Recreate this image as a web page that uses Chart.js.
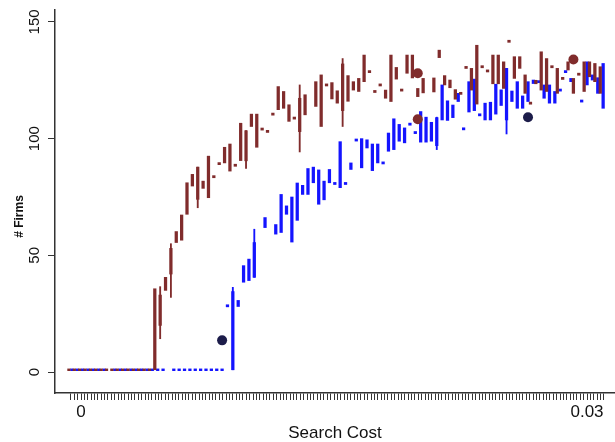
<!DOCTYPE html>
<html><head><meta charset="utf-8">
<script src="https://cdn.jsdelivr.net/npm/chart.js@4.4.0/dist/chart.umd.min.js"></script>
<style>html,body{margin:0;padding:0;background:#fff;}canvas{display:block;}</style>
</head><body>
<canvas id="c" width="615" height="442"></canvas>
<script>
// ---- data (category index 0..99 along Search Cost) ----
const categories = Array.from({length: 100}, (_, i) => i);
const maroonLow = [1,1,1,1,1,1,1,1,1,1,1,1,1,1,1,1,
  1,20,35,42,55.5,56.5,67.6,79.7,74,78.7,74.7,83.7,89.3,89.6,86.1,88.6,90.6,90.5,105.2,96.3,
  104.1,103.1,110.5,112.4,113,107.4,108.8,103,110.2,null,113.8,105.2,123,117,115.2,112,116,120.8,120.2,124.4,
  128.7,120.2,123,117.3,115.9,125.5,120.8,128,126,118,119.6,null,120,134.7,123,121.8,116.9,119.4,130.5,120.8,
  114.8,130.8,129,123.5,123.5,121.5,141.7,125.8,130.1,119.4,115.2,123.5,120.8,120.2,130.8,119.4,125.8,129.4,119.4,127.6,
  120.2,126.5,124.4,119.4];
const maroonHigh = [1,1,1,1,1,1,1,1,1,1,1,1,1,1,1,1,
  35.7,33,40.6,53,60.2,67.3,81.1,84.7,87.8,81.8,92.5,83.7,89.3,96.3,97.7,88.6,106.6,103.4,110.5,110.5,
  104.1,103.1,110.5,122.3,120.2,114.5,108.8,117.3,118.8,null,124.4,127.3,123,124,120.5,132,127,124.4,125.8,135.8,
  128.7,120.2,123,120.8,135.8,130.5,120.8,135.8,135.8,121.5,125.8,null,126,137.9,127,125.1,121,119.4,130.5,130.1,
  140,130.8,129,135.8,135.8,132.9,141.7,135.1,135.1,127.3,115.2,125,137.2,134.3,130.8,130.1,125.8,132.9,125.8,127.6,
  132.9,132.9,132.2,130.8];
const blueLow = [1,1,1,1,1,1,1,null,1,1,1,1,1,1,1,1,1,1,null,1,1,1,1,1,1,1,1,1,1,
  28.4,1,28.1,38.5,39.2,40.6,null,61.9,null,59.1,59.8,67.6,55.7,65,76.1,76.1,81.1,71.9,73.8,81.1,80.8,
  79,80.8,86.8,99.4,87.5,96,86.3,89.6,89.6,94.6,95.3,98.9,98.2,106.2,102.6,98.5,98.5,98.9,97,108,
  107.8,109,115.9,104.2,111.4,112,110.2,108,108,110.5,114.2,108,115.9,113,113,115.9,123.6,124.4,117.3,115.2,
  115.2,120.8,128.7,124.4,null,116.1,123,125.1,119.4,113];
const blueHigh = [1,1,1,1,1,1,1,null,1,1,1,1,1,1,1,1,1,1,null,1,1,1,1,1,1,1,1,1,1,
  28.4,34.5,30.7,45.6,48.4,55.5,null,66.2,null,63.2,76.1,71.2,75,81,80,87.2,87.8,86.6,81.8,86.8,80.8,
  98.7,80.8,89.6,99.4,100,99.5,97.7,97.7,89.6,102.4,108.5,106.1,104.6,106.2,102.6,111.6,109.2,107,109,123,
  116.2,114.4,119.4,104.2,124.4,125.5,110.2,115.2,115.6,123.3,120.9,130.1,120.4,124.4,118.3,124.4,125.1,124.4,123,123,
  120.2,120.8,128.7,125.8,null,116.1,132.9,127.3,126.1,132.2];
// whiskers (adjacent values) where they extend beyond the box
const maroonWhiskerIdx  = [17, 19, 24, 33, 43, 51];
const maroonWhiskerLow  = [14.3, 32, 70.4, 87.2, 94.3, 105.2];
const maroonWhiskerHigh = [36.6, 55, 87.8, 103.4, 123, 134.3];
const blueWhiskerIdx  = [30, 34, 68, 81];
const blueWhiskerLow  = [1, 40.6, 95.3, 102];
const blueWhiskerHigh = [36.3, 61.2, 109.2, 130.1];
// outside values
const maroonOutlierIdx = [65, 65, 94];
const maroonOutlierVal = [128, 108.3, 133.9];
const blueOutlierIdx = [28, 85];
const blueOutlierVal = [13.6, 109.2];
// axis ticks
const yTicks = [0, 50, 100, 150];
const xTickLabels = [[0, '0'], [0.03, '0.03']];
const xMinorStep = 0.0002;

const MAROON = '#802c2c', BLUE = '#1414ff', NAVY = '#1c1c4a';
const SHIFT = 0.27; // maroon box sits left of the category centre, blue box right

function boxData(lo, hi, shift) {
  const out = [];
  categories.forEach((c, i) => {
    if (lo[i] == null) return;
    let a = lo[i], b = hi[i];
    const minH = (a < 2) ? 0.75 : 0.9;
    if (b - a < minH) { const m = (a + b) / 2; a = m - minH / 2; b = m + minH / 2; }
    out.push({x: c + shift, y: [a, b]});
  });
  return out;
}
function whiskerData(idx, lo, hi, shift) {
  return idx.map((c, k) => ({x: c + shift, y: [lo[k], hi[k]]}));
}
function pts(idx, val, shift) {
  return idx.map((c, k) => ({x: c + shift, y: val[k]}));
}

const barBase = {xAxisID: 'x', yAxisID: 'y', borderWidth: 0, grouped: false, order: 1};

new Chart(document.getElementById('c'), {
  type: 'bar',
  data: {
    datasets: [
      {type: 'scatter', order: 0, data: pts(maroonOutlierIdx, maroonOutlierVal, -SHIFT), xAxisID: 'x', yAxisID: 'y',
       backgroundColor: MAROON, borderColor: MAROON, pointRadius: 5, borderWidth: 0},
      {type: 'scatter', order: 0, data: pts(blueOutlierIdx, blueOutlierVal, SHIFT), xAxisID: 'x', yAxisID: 'y',
       backgroundColor: NAVY, borderColor: NAVY, pointRadius: 5, borderWidth: 0},
      Object.assign({data: boxData(maroonLow, maroonHigh, -SHIFT), backgroundColor: MAROON, barThickness: 2.6}, barBase),
      Object.assign({data: boxData(blueLow, blueHigh, SHIFT), backgroundColor: BLUE, barThickness: 2.6}, barBase),
      Object.assign({data: whiskerData(maroonWhiskerIdx, maroonWhiskerLow, maroonWhiskerHigh, -SHIFT), backgroundColor: MAROON, barThickness: 1.2}, barBase),
      Object.assign({data: whiskerData(blueWhiskerIdx, blueWhiskerLow, blueWhiskerHigh, SHIFT), backgroundColor: BLUE, barThickness: 1.2}, barBase)
    ]
  },
  options: {
    responsive: false, animation: false, devicePixelRatio: 1,
    layout: {autoPadding: false, padding: {top: 8, right: 0, left: 0, bottom: 0}},
    plugins: {legend: {display: false}, tooltip: {enabled: false}},
    scales: {
      x: {type: 'linear', display: false, min: -2.866, max: 101.48, offset: false, grid: {offset: false}},
      xt: {
        type: 'linear', position: 'bottom', min: -0.001542, max: 0.03166, offset: false,
        afterBuildTicks: s => {
          const t = [];
          for (let k = -3; k <= 155; k++) t.push({value: k * xMinorStep});
          s.ticks = t;
        },
        afterFit: s => { s.height = 49; },
        grid: {offset: false, drawOnChartArea: false, drawTicks: true, tickLength: 7, color: '#333', lineWidth: 1},
        border: {display: true, color: '#333', width: 1.5},
        ticks: {
          autoSkip: false, maxRotation: 0, minRotation: 0, padding: 2, color: '#111',
          font: {family: 'Liberation Sans', size: 17},
          callback: v => { for (const [val, lab] of xTickLabels) if (Math.abs(v - val) < 1e-7) return lab; return ''; }
        },
        title: {display: true, text: 'Search Cost', color: '#111',
                font: {family: 'Liberation Sans', size: 17, lineHeight: 1.0},
                padding: {top: 0, bottom: 0}}
      },
      y: {
        type: 'linear', position: 'left', min: -8.95, max: 155.1,
        afterBuildTicks: s => { s.ticks = yTicks.map(v => ({value: v})); },
        afterFit: s => { s.width = 55; },
        grid: {drawOnChartArea: false, drawTicks: true, tickLength: 7, color: '#333', lineWidth: 1},
        border: {display: true, color: '#333', width: 1.5},
        ticks: {minRotation: 90, maxRotation: 90, crossAlign: 'center', padding: 1, color: '#111',
                font: {family: 'Liberation Sans', size: 15}},
        title: {display: true, text: '# Firms         ', color: '#111', font: {family: 'Liberation Sans', size: 12, weight: 'bold'},
                padding: {top: 12, bottom: 0}}
      }
    }
  }
});
</script>
</body></html>
